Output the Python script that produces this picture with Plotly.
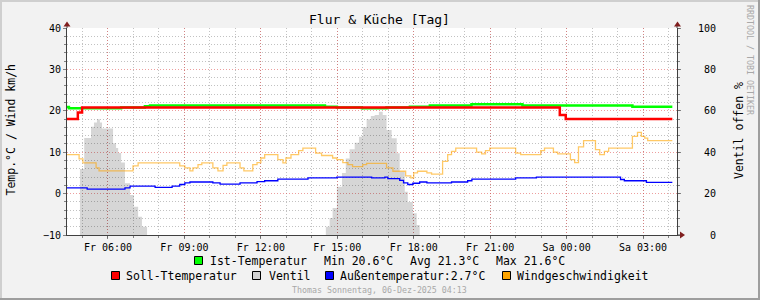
import plotly.graph_objects as go

# ---------------- data ----------------
DAYS = {"Fr": "2025-12-05", "Sa": "2025-12-06"}

ist_time = ["Fr 04:23", "Fr 04:28", "Fr 06:31", "Fr 07:27", "Fr 07:39", "Fr 14:31", "Fr 14:59",
            "Fr 15:58", "Fr 16:56", "Fr 17:51", "Fr 18:38", "Fr 20:16", "Fr 22:16", "Sa 02:35", "Sa 04:09"]
ist_val = [20.9, 20.6, 20.8, 21.1, 21.3, 21.0, 20.8, 20.6, 20.8, 21.0, 21.3, 21.6, 21.3, 21.0, 21.0]

soll_time = ["Fr 04:23", "Fr 04:49", "Fr 04:59", "Fr 23:44", "Fr 23:58", "Sa 04:09"]
soll_val = [18.0, 19.6, 20.8, 19.0, 18.0, 18.0]

ventil_time = ["Fr 04:23", "Fr 04:54", "Fr 05:04", "Fr 05:20", "Fr 05:27", "Fr 05:34", "Fr 05:41",
               "Fr 05:46", "Fr 06:12", "Fr 06:19", "Fr 06:24", "Fr 06:31", "Fr 06:40", "Fr 06:52",
               "Fr 07:01", "Fr 07:11", "Fr 07:20", "Fr 07:32",
               "Fr 14:33", "Fr 14:42", "Fr 14:49", "Fr 14:59", "Fr 15:11", "Fr 15:20", "Fr 15:29",
               "Fr 15:41", "Fr 15:51", "Fr 16:00", "Fr 16:09", "Fr 16:19", "Fr 16:28", "Fr 16:38",
               "Fr 16:47", "Fr 16:56", "Fr 17:08", "Fr 17:20", "Fr 17:27", "Fr 17:39", "Fr 17:46",
               "Fr 17:58", "Fr 18:07", "Fr 18:14", "Sa 04:09"]
ventil_val = [0, 31.9, 46.9, 52.3, 54.3, 55.9, 54.3,
              51.5, 44.3, 42.0, 39.6, 35.0, 25.0, 19.3,
              13.7, 8.8, 4.0, 0,
              4.0, 8.2, 13.0, 23.3, 30.0, 37.0, 41.4,
              44.6, 47.5, 52.0, 55.9, 57.5, 58.0, 59.6,
              58.0, 50.7, 46.7, 39.5, 30.6, 20.9, 16.0,
              10.5, 4.8, 0, 0]

aussen_time = ["Fr 04:23", "Fr 05:11", "Fr 06:40", "Fr 06:52", "Fr 07:51", "Fr 08:31", "Fr 08:49",
               "Fr 09:01", "Fr 09:13", "Fr 10:07", "Fr 10:24", "Fr 11:11", "Fr 11:51", "Fr 12:09",
               "Fr 12:40", "Fr 13:51", "Fr 14:59", "Fr 16:21", "Fr 16:52", "Fr 16:59", "Fr 17:27",
               "Fr 17:36", "Fr 17:46", "Fr 17:58", "Fr 18:14", "Fr 18:31", "Fr 19:29", "Fr 20:07",
               "Fr 20:17", "Fr 22:00", "Fr 22:49", "Sa 02:07", "Sa 02:16", "Sa 03:08", "Sa 04:09"]
aussen_val = [1.4, 1.1, 1.4, 1.8, 1.5, 1.8, 2.2,
              2.6, 2.8, 2.6, 2.3, 2.6, 2.9, 3.1,
              3.5, 3.8, 4.0, 3.8, 4.0, 3.6, 3.2,
              2.6, 2.2, 2.5, 2.8, 2.6, 2.8, 3.1,
              3.5, 3.8, 4.0, 3.4, 3.1, 2.7, 2.7]

wind_time = ["Fr 04:23", "Fr 04:52", "Fr 05:01", "Fr 05:32", "Fr 05:39", "Fr 06:59", "Fr 07:11",
             "Fr 08:49", "Fr 09:01", "Fr 09:13", "Fr 09:20", "Fr 09:32", "Fr 09:41", "Fr 10:07",
             "Fr 10:19", "Fr 10:31", "Fr 10:40", "Fr 11:11", "Fr 11:20", "Fr 11:41", "Fr 11:51",
             "Fr 12:00", "Fr 12:09", "Fr 12:40", "Fr 12:52", "Fr 12:59", "Fr 13:11", "Fr 13:29",
             "Fr 13:39", "Fr 14:09", "Fr 14:23", "Fr 14:49", "Fr 14:59", "Fr 15:13", "Fr 15:25",
             "Fr 15:36", "Fr 16:00", "Fr 16:09", "Fr 16:56", "Fr 17:11", "Fr 17:41", "Fr 17:53",
             "Fr 18:00", "Fr 18:09", "Fr 18:31", "Fr 18:42", "Fr 19:08", "Fr 19:20", "Fr 19:29",
             "Fr 19:39", "Fr 20:28", "Fr 20:40", "Fr 20:49", "Fr 20:59", "Fr 22:00", "Fr 22:12",
             "Fr 22:59", "Fr 23:08", "Fr 23:29", "Fr 23:39", "Sa 00:09", "Sa 00:19", "Sa 00:28",
             "Sa 00:40", "Sa 01:08", "Sa 01:18", "Sa 01:29", "Sa 01:39", "Sa 02:35", "Sa 02:47",
             "Sa 02:56", "Sa 03:04", "Sa 03:11", "Sa 04:09"]
wind_val = [9.4, 8.4, 7.4, 6.2, 5.5, 6.7, 7.4,
            6.7, 6.2, 5.5, 6.2, 7.0, 7.4, 6.2,
            5.5, 6.8, 7.4, 6.2, 5.5, 7.0, 7.5,
            8.6, 9.4, 8.2, 7.4, 8.6, 9.4, 10.4,
            11.0, 9.8, 9.2, 8.6, 8.2, 7.5, 7.0,
            6.5, 7.0, 7.3, 6.2, 5.4, 4.3, 3.8,
            5.0, 5.4, 5.0, 4.7, 7.8, 9.4, 10.2,
            11.0, 10.0, 9.6, 10.4, 11.0, 9.8, 9.4,
            10.4, 11.0, 10.0, 9.6, 8.2, 7.5, 11.3,
            12.8, 10.6, 9.4, 10.2, 11.0, 13.8, 14.8,
            13.8, 13.4, 12.8, 12.8]

x_tick_times = ["Fr 06:00", "Fr 09:00", "Fr 12:00", "Fr 15:00", "Fr 18:00", "Fr 21:00", "Sa 00:00", "Sa 03:00"]
x_tick_labels = ["Fr 06:00", "Fr 09:00", "Fr 12:00", "Fr 15:00", "Fr 18:00", "Fr 21:00", "Sa 00:00", "Sa 03:00"]
pct_ticks = [0, 20, 40, 60, 80, 100]
x_range = ["Fr 04:23:30", "Sa 04:20"]

title_text = "Flur & Küche [Tag]"
ist_stats = ["Min 20.6°C", "Avg 21.3°C", "Max 21.6°C"]
aussen_last = "2.7°C"


def ts(s):
    d, t = s.split()
    return f"{DAYS[d]} {t}"


# ---------------- styling ----------------
FONT = "DejaVu Sans Mono"
W, H = 760, 300
L, R, T, B = 67, 677, 28, 235
MGRID = "rgba(222,79,79,0.55)"
GRID = "rgba(143,143,143,0.55)"
TICK = "rgba(100,100,100,0.8)"
AXIS = "#404040"
ARROW = "#801f1f"
DASH = "1px,2px"


def px(x):
    return (x - L) / (R - L)


def py(y):
    return (B - y) / (B - T)


fig = go.Figure()

# Ventil area (percent axis, base subplot -> drawn beneath lines)
fig.add_trace(go.Scatter(
    x=[ts(t) for t in ventil_time], y=ventil_val, yaxis="y", mode="lines",
    line=dict(width=0, shape="hv"), fill="tozeroy", fillcolor="rgba(0,0,0,0.16)",
    name="Ventil", showlegend=False, hoverinfo="skip"))

fig.add_trace(go.Scatter(
    x=[ts(t) for t in ist_time], y=ist_val, yaxis="y2", mode="lines",
    line=dict(color="#00FF00", width=2.5, shape="hv"), showlegend=False))
fig.add_trace(go.Scatter(
    x=[ts(t) for t in soll_time], y=soll_val, yaxis="y2", mode="lines",
    line=dict(color="#FF0000", width=2.5, shape="hv"), showlegend=False))
fig.add_trace(go.Scatter(
    x=[ts(t) for t in aussen_time], y=aussen_val, yaxis="y2", mode="lines",
    line=dict(color="#0000FF", width=1.3, shape="hv"), showlegend=False))
fig.add_trace(go.Scatter(
    x=[ts(t) for t in wind_time], y=wind_val, yaxis="y2", mode="lines",
    line=dict(color="rgba(255,165,0,0.6)", width=1.3, shape="hv"), showlegend=False))

shapes = []
annotations = []

# frame (3D shade)
shapes += [
    dict(type="rect", xref="paper", yref="paper", x0=px(0), x1=px(W), y0=py(0), y1=py(2),
         fillcolor="#CFCFCF", line=dict(width=0), layer="below"),
    dict(type="rect", xref="paper", yref="paper", x0=px(0), x1=px(2), y0=py(0), y1=py(H),
         fillcolor="#CFCFCF", line=dict(width=0), layer="below"),
    dict(type="rect", xref="paper", yref="paper", x0=px(0), x1=px(W), y0=py(H - 2), y1=py(H),
         fillcolor="#9E9E9E", line=dict(width=0), layer="below"),
    dict(type="rect", xref="paper", yref="paper", x0=px(W - 2), x1=px(W), y0=py(0), y1=py(H),
         fillcolor="#9E9E9E", line=dict(width=0), layer="below"),
]

# axis extensions and arrows
shapes += [
    dict(type="line", xref="paper", yref="paper", x0=px(67), x1=px(67), y0=py(28), y1=py(24),
         line=dict(color=AXIS, width=1)),
    dict(type="line", xref="paper", yref="paper", x0=px(677), x1=px(677), y0=py(28), y1=py(24),
         line=dict(color=AXIS, width=1)),
    dict(type="line", xref="paper", yref="paper", x0=px(677), x1=px(681), y0=py(235), y1=py(235),
         line=dict(color=AXIS, width=1)),
]
for (ax, ay, kind) in [(67, 21.5, "up"), (677.5, 21.5, "up"), (685, 235, "right")]:
    if kind == "up":
        pts = [(ax - 3.5, ay + 5), (ax + 3.5, ay + 5), (ax, ay)]
    else:
        pts = [(ax - 5, B - 3.5), (ax - 5, B + 3.5), (ax, B)]
    path = "M " + " L ".join(f"{px(a)},{py(b)}" for a, b in pts) + " Z"
    shapes.append(dict(type="path", xref="paper", yref="paper", path=path,
                       fillcolor=ARROW, line=dict(width=0)))


def text(x, y, s, size=11.5, color="black", xanchor="left", angle=0):
    annotations.append(dict(x=px(x), y=py(y), xref="paper", yref="paper", text=s,
                            showarrow=False, xanchor=xanchor, yanchor="middle", textangle=angle,
                            font=dict(family=FONT, size=size, color=color), borderpad=0))


# title & axis titles & watermark
text(380, 19, title_text, size=13, xanchor="center")
text(10.5, 130, "Temp.°C / Wind km/h", xanchor="center", angle=-90)
text(738.5, 130.5, "Ventil offen %", xanchor="center", angle=-90)
text(750, 60, "RRDTOOL / TOBI OETIKER", size=8.3, color="#A8A8A8", xanchor="center", angle=90)

# legend
def box(x, y, color):
    shapes.append(dict(type="rect", xref="paper", yref="paper", x0=px(x), x1=px(x + 8),
                       y0=py(y), y1=py(y + 8), fillcolor=color, line=dict(color="black", width=1)))

box(194.5, 256.5, "#00FF00")
text(208.5, 261, "Ist-Temperatur")
text(322.5, 261, ist_stats[0])
text(408.5, 261, ist_stats[1])
text(494.5, 261, ist_stats[2])

box(111.5, 271.5, "#FF0000")
text(125, 276, "Soll-Ttemperatur")
box(252.5, 271.5, "#D3D3D3")
text(267.5, 276, "Ventil")
box(325.5, 271.5, "#0000FF")
text(339, 276, "Außentemperatur:" + aussen_last)
box(502.5, 271.5, "#FFA500")
text(516, 276, "Windgeschwindigkeit")

text(380, 289.5, "Thomas Sonnentag, 06-Dez-2025 04:13", size=8.3, color="#A8A8A8", xanchor="center")

fig.update_layout(
    width=W, height=H,
    margin=dict(l=L, r=W - R, t=T, b=H - B, pad=0),
    paper_bgcolor="#F2F2F2", plot_bgcolor="white",
    showlegend=False,
    font=dict(family=FONT, size=10, color="black"),
    xaxis=dict(
        type="date", range=[ts(x_range[0]), ts(x_range[1])],
        tickmode="array", tickvals=[ts(t) for t in x_tick_times], ticktext=x_tick_labels,
        showgrid=True, gridcolor=MGRID, griddash=DASH, gridwidth=1,
        showline=True, linecolor=AXIS, linewidth=1,
        ticks="outside", ticklen=3, tickcolor=TICK,
        tickfont=dict(family=FONT, size=10),
        minor=dict(dtick=3600000, tick0="2025-12-05 00:00", showgrid=True, gridcolor=GRID,
                   griddash=DASH, ticks="outside", ticklen=2, tickcolor=TICK),
        zeroline=False, fixedrange=True,
    ),
    yaxis=dict(
        range=[0, 100], side="right",
        tickmode="array", tickvals=pct_ticks,
        ticktext=[str(v).rjust(3, "\u00a0") for v in pct_ticks],
        showgrid=False, zeroline=False,
        showline=True, linecolor=AXIS, linewidth=1,
        ticks="outside", ticklen=3, tickcolor=TICK, ticklabelstandoff=15,
        minor=dict(dtick=4, ticks="outside", ticklen=2, tickcolor=TICK, showgrid=False),
        tickfont=dict(family=FONT, size=10),
    ),
    yaxis2=dict(
        range=[-10, 40], side="left", overlaying="y", anchor="x",
        tick0=0, dtick=10,
        showgrid=True, gridcolor=MGRID, griddash=DASH, gridwidth=1,
        zeroline=False,
        showline=True, linecolor=AXIS, linewidth=1,
        ticks="outside", ticklen=3, tickcolor=TICK,
        minor=dict(dtick=2, showgrid=True, gridcolor=GRID, griddash=DASH,
                   ticks="outside", ticklen=2, tickcolor=TICK),
        tickfont=dict(family=FONT, size=10),
    ),
    shapes=shapes,
    annotations=annotations,
)

fig.write_html("out.html")
